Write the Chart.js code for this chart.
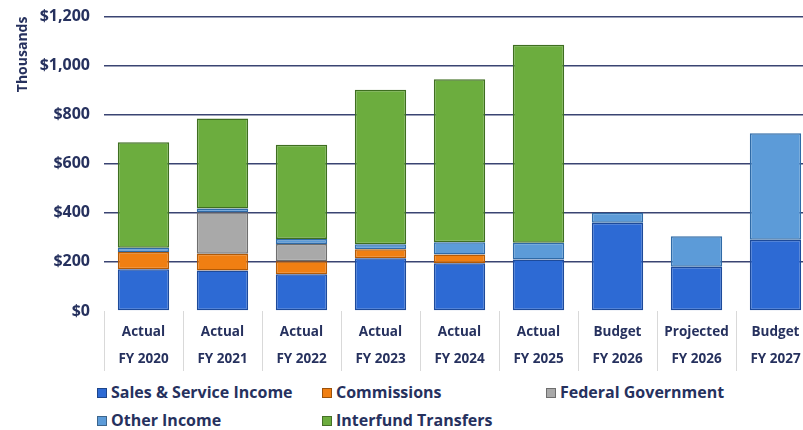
<!DOCTYPE html>
<html>
<head>
<meta charset="utf-8">
<script src="https://cdn.jsdelivr.net/npm/chart.js@4.4.1/dist/chart.umd.min.js"></script>
<style>
  html, body { margin: 0; padding: 0; background: #fff; }
  #wrap { width: 803px; height: 430px; overflow: hidden; position: relative; }
  #box { width: 815px; height: 383px; position: absolute; left: 0; top: -7px; }
  #legenda { position: absolute; left: 0; top: 380px; width: 803px; height: 50px;
    font-family: "Open Sans", sans-serif; font-weight: 700; font-size: 16px; color: #26315e; }
  .item { position: absolute; white-space: nowrap; line-height: 20px; }
  .item span { display: inline-block; width: 10px; height: 10px; margin-right: 4px; vertical-align: 0px; border: 1px solid rgba(0,0,0,0.35); box-sizing: border-box; }
</style>
</head>
<body>
<div id="wrap">
  <div id="box"><canvas id="grafico"></canvas></div>
  <div id="legenda"></div>
</div>
<script>
// dados (em milhares de dolares)
var categorias = [
  ["Actual", "FY 2020"], ["Actual", "FY 2021"], ["Actual", "FY 2022"],
  ["Actual", "FY 2023"], ["Actual", "FY 2024"], ["Actual", "FY 2025"],
  ["Budget", "FY 2026"], ["Projected", "FY 2026"], ["Budget", "FY 2027"]
];
var vendasServicos = [170, 165, 150, 215, 195, 210, 360, 180, 290];
var comissoes = [70, 68, 53, 37, 35, 0, 0, 0, 0];
var governoFederal = [0, 170, 70, 0, 0, 0, 0, 0, 0];
var outrasReceitas = [18, 15, 20, 20, 50, 68, 40, 125, 435];
var transferencias = [430, 367, 385, 630, 665, 807, 0, 0, 0];

var series = [
  { nome: "Sales & Service Income", valores: vendasServicos, cor: "#2d6ad4", borda: "#1d4a9a" },
  { nome: "Commissions", valores: comissoes, cor: "#f07f12", borda: "#b25a06" },
  { nome: "Federal Government", valores: governoFederal, cor: "#a9a9a9", borda: "#6e6e6e" },
  { nome: "Other Income", valores: outrasReceitas, cor: "#5c9bd8", borda: "#2f6aa6" },
  { nome: "Interfund Transfers", valores: transferencias, cor: "#6cad3e", borda: "#3e6e20" }
];

var corTexto = "#26315e";
var fonte = "'Open Sans', sans-serif";

const ctx = document.getElementById("grafico");

const grafico = new Chart(ctx, {
  type: "bar",
  data: {
    labels: categorias,
    datasets: series.map(function (s) {
      return {
        label: s.nome,
        data: s.valores,
        backgroundColor: s.cor,
        borderColor: s.borda,
        borderWidth: 1.5,
        borderSkipped: false,
        categoryPercentage: 0.65,
        barPercentage: 1.0
      };
    })
  },
  options: {
    responsive: true,
    maintainAspectRatio: false,
    animation: false,
    layout: { padding: { top: 0, right: 0, left: 0, bottom: 0 } },
    plugins: {
      legend: { display: false },
      tooltip: { enabled: false }
    },
    scales: {
      x: {
        stacked: true,
        afterFit: function (scale) { scale.height = 65; },
        border: { display: false },
        grid: {
          offset: true,
          drawOnChartArea: false,
          drawTicks: true,
          tickLength: 60,
          color: "#d9d9d9",
          lineWidth: 1
        },
        ticks: {
          padding: -52,
          color: corTexto,
          font: { family: fonte, weight: "bold", size: 13.5, lineHeight: 2.0 },
          maxRotation: 0,
          autoSkip: false
        }
      },
      y: {
        stacked: true,
        min: 0,
        max: 1200,
        afterFit: function (scale) { scale.width = 104; },
        border: { display: false },
        grid: {
          drawTicks: false,
          color: function (c) { return c.tick && c.tick.value === 0 ? "rgba(0,0,0,0)" : "#3a4472"; },
          lineWidth: 1.5
        },
        ticks: {
          stepSize: 200,
          padding: 14,
          color: corTexto,
          font: { family: fonte, weight: "bold", size: 16 },
          callback: function (valor) {
            return "$" + valor.toLocaleString("en-US");
          }
        },
        title: {
          display: true,
          text: "Thousands",
          align: "end",
          color: corTexto,
          font: { family: fonte, weight: "bold", size: 14 },
          padding: { top: 15, bottom: 0 }
        }
      }
    }
  }
});

// legenda em html pra ficar em colunas igual ao original
var posicoes = [[97, 2], [322, 2], [546, 2], [97, 30], [322, 30]];
var legenda = document.getElementById("legenda");
grafico.data.datasets.forEach(function (ds, i) {
  var div = document.createElement("div");
  div.className = "item";
  div.style.left = posicoes[i][0] + "px";
  div.style.top = posicoes[i][1] + "px";
  div.innerHTML = '<span style="background:' + ds.backgroundColor + '"></span>' + ds.label;
  legenda.appendChild(div);
});
</script>
</body>
</html>
